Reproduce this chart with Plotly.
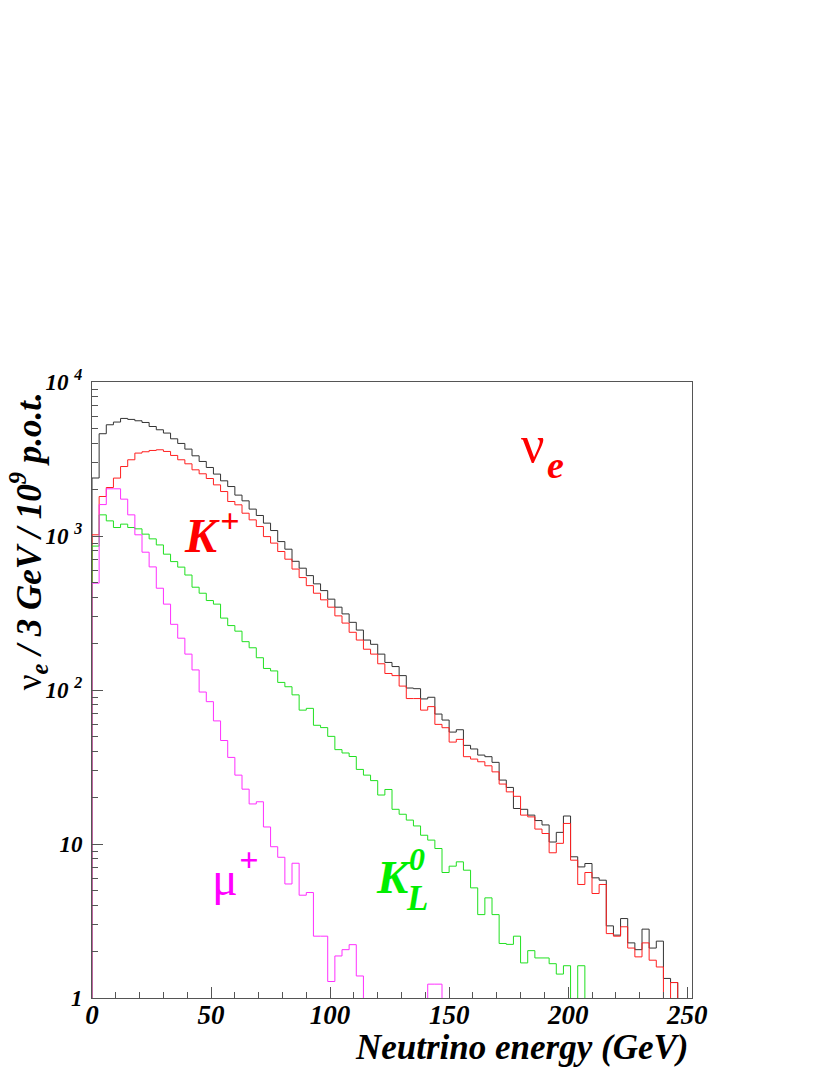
import numpy as np
import plotly.graph_objects as go

# ---------------------------------------------------------------------------
# Data: nu_e spectrum per 3 GeV bin (84 bins, 0-252 GeV), log scale
# ---------------------------------------------------------------------------

bin_width = 3.0
n_bins = 84

total = [
    2380, 4615, 5276, 5494, 5800, 5715, 5600, 5460, 5140, 4895,
    4660, 4277, 3990, 3667, 3317, 3048, 2786, 2524, 2282, 2095,
    1843, 1692, 1495, 1359, 1212, 1085, 920, 821, 685, 618,
    553, 489, 442, 389, 345, 312, 275, 245, 211, 198,
    171, 151, 142, 124, 103, 102, 87.5, 89.7, 69.8, 63.8,
    53.3, 55.2, 43.7, 41.4, 37.8, 36.9, 33.9, 26, 23.3, 17.0,
    16.8, 15.4, 14.2, 13.3, 10.3, 11.9, 15.2, 8.26, 7.1, 7.47,
    6.03, 5.82, 2.94, 2.56, 3.28, 2.28, 2.06, 2.80, 2.11, 2.34,
    1.34, 1.26, 0, 0,
]

k_plus = [
    1018, 1805, 2065, 2377, 2826, 3126, 3455, 3524, 3593, 3630,
    3540, 3335, 3126, 2943, 2690, 2535, 2362, 2148, 1944, 1675,
    1594, 1406, 1273, 1152, 991, 899, 793, 707, 610, 537,
    476, 425, 385, 345, 303, 272, 237, 211, 184, 171,
    148, 128, 124, 106, 88, 88, 74, 78, 59.8, 56.9,
    45.9, 47.8, 36.9, 35.6, 34.2, 32.2, 29.4, 24.5, 21.8, 20.4,
    15.4, 15.0, 12.5, 11.7, 8.77, 10.1, 13.6, 7.85, 5.46, 6.53,
    4.77, 5.46, 2.62, 2.52, 2.90, 2.11, 1.85, 2.28, 1.76, 1.59,
    0, 1.26, 0, 0,
]

k0_long = [
    860, 1372, 1254, 1135, 1194, 1135, 1113, 1028, 958, 875,
    762, 682, 628, 558, 465, 425, 381, 361, 293, 262,
    241, 206, 188, 162, 138, 133, 112, 105, 93, 74,
    76, 59, 57, 50, 41, 39, 37, 30.5, 28, 25.8,
    20.8, 22.6, 16.8, 15.6, 14.3, 13.1, 11.4, 10.6, 9.35, 6.53,
    7.18, 7.66, 6.76, 5.19, 3.48, 4.47, 3.48, 2.26, 2.23, 2.52,
    1.69, 2.03, 1.82, 1.82, 1.67, 1.43, 1.62, 0, 1.62, 0,
    0, 0, 0, 0, 0, 0, 0, 0, 0, 0,
    0, 0, 0, 0,
]

mu_plus = [
    494, 1600, 2025, 2025, 1735, 1372, 1018, 785, 630, 458,
    361, 267, 217, 171, 135, 97, 84, 63, 47, 36.5,
    28, 22.7, 18.2, 18.8, 12.9, 9.6, 8.2, 5.5, 7.5, 4.65,
    4.84, 2.52, 2.52, 1.28, 1.875, 2.06, 2.22, 1.39, 0, 0,
    0, 0, 0, 0, 0, 0, 0, 1.23, 1.23, 0,
    0, 0, 0, 0, 0, 0, 0, 0, 0, 0,
    0, 0, 0, 0, 0, 0, 0, 0, 0, 0,
    0, 0, 0, 0, 0, 0, 0, 0, 0, 0,
    0, 0, 0, 0,
]

x_tick_vals = [0, 50, 100, 150, 200, 250]
y_tick_vals = [1, 10, 100, 1000, 10000]
y_tick_text = [
    "1", "10",
    "10 <sup>2</sup>", "10 <sup>3</sup>", "10 <sup>4</sup>",
]

FONT = "Liberation Serif"
AXIS_GREY = "#555555"

# ---------------------------------------------------------------------------
# Step-histogram helper
# ---------------------------------------------------------------------------

edges = np.arange(n_bins + 1) * bin_width


def hist_trace(values, color):
    v = np.asarray(values, dtype=float)
    v = np.where(v > 0, v, 0.05)  # empty bins drop below the log axis floor
    xs = np.concatenate([[0.0], edges[:-1], [edges[-1], edges[-1]]])
    ys = np.concatenate([[0.05], v, [v[-1], 0.05]])
    return go.Scatter(
        x=xs, y=ys,
        mode="lines",
        line=dict(color=color, width=1, shape="hv"),
        hoverinfo="skip",
        showlegend=False,
    )


fig = go.Figure()
fig.add_trace(hist_trace(total, "#333333"))
fig.add_trace(hist_trace(k_plus, "#ff2020"))
fig.add_trace(hist_trace(k0_long, "#20e020"))
fig.add_trace(hist_trace(mu_plus, "#ff30ff"))

# ---------------------------------------------------------------------------
# In-plot labels (data coords; y in log10 units)
# ---------------------------------------------------------------------------

def label(x, y, text, color, size, bold=True):
    fig.add_annotation(
        x=x, y=y, xref="x", yref="y", text=text, showarrow=False,
        xanchor="center", yanchor="middle",
        font=dict(family=FONT, size=size, color=color,
                  weight="bold" if bold else "normal",
                  style="italic" if bold else "normal"),
    )


label(185.3, 3.594, "ν", "#ff0000", 52, bold=False)
label(194.5, 3.460, "e", "#ff0000", 38)
label(46.2, 3.001, "K", "#ff0000", 48)
label(57.6, 3.101, "+", "#ff0000", 34)
label(55.9, 0.776, "μ", "#ff00ff", 48, bold=False)
label(65.6, 0.897, "+", "#ff00ff", 34)
label(126.6, 0.787, "K", "#00ee00", 47)
label(136.7, 0.901, "0", "#00ee00", 32)
label(136.7, 0.648, "L", "#00ee00", 35)

# axis titles (ROOT style: placed at the axis end)
fig.add_annotation(
    x=0.9967, y=-0.080, xref="paper", yref="paper",
    text="Neutrino energy (GeV)", showarrow=False,
    xanchor="right", yanchor="middle",
    font=dict(family=FONT, size=35, color="black", weight="bold", style="italic"),
)
fig.add_annotation(
    x=-0.1055, y=0.741, xref="paper", yref="paper",
    text="ν<sub><b><i>e</i></b></sub><b><i> / 3 GeV / 10<sup>9</sup> p.o.t.</i></b>",
    showarrow=False, textangle=-90,
    xanchor="center", yanchor="middle",
    font=dict(family=FONT, size=35, color="black"),
)

minor_y = [m * 10 ** d for d in range(4) for m in range(2, 10)]

# page body has an 8 px margin, so the plot frame lands at x 92-692, y 382-998
fig.update_layout(
    width=830,
    height=1075,
    paper_bgcolor="white",
    plot_bgcolor="white",
    margin=dict(l=84, r=146, t=374, b=85),
    xaxis=dict(
        range=[0, 252],
        tickvals=x_tick_vals,
        ticks="inside", ticklen=11, tickcolor=AXIS_GREY,
        ticklabelstandoff=-7,
        minor=dict(dtick=10, ticks="inside", ticklen=6, tickcolor=AXIS_GREY),
        showgrid=False, zeroline=False,
        showline=True, mirror=True, linecolor=AXIS_GREY, linewidth=1,
        tickfont=dict(family=FONT, size=27, color="black",
                      weight="bold", style="italic"),
    ),
    yaxis=dict(
        type="log",
        range=[0, 4],
        tickvals=y_tick_vals,
        ticktext=y_tick_text,
        ticks="inside", ticklen=11, tickcolor=AXIS_GREY,
        ticklabelstandoff=4,
        minor=dict(tickvals=minor_y, ticks="inside", ticklen=6,
                   tickcolor=AXIS_GREY),
        showgrid=False, zeroline=False,
        showline=True, mirror=True, linecolor=AXIS_GREY, linewidth=1,
        tickfont=dict(family=FONT, size=23, color="black",
                      weight="bold", style="italic"),
    ),
)

fig.write_html("out.html")
